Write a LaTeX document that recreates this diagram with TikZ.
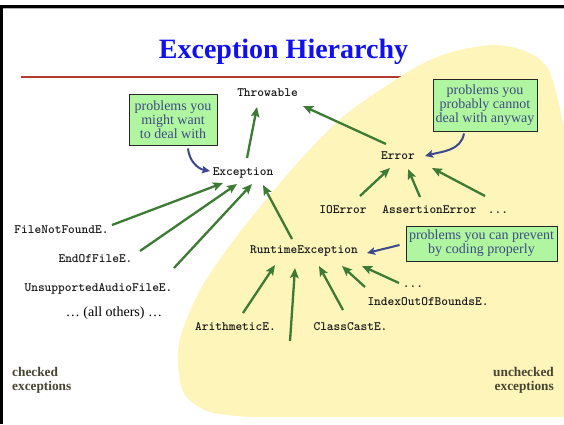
\documentclass[tikz,border=0pt]{standalone}
\usepackage{fontspec}
\setmainfont{Liberation Serif}
\newfontfamily\clsfont{lmmonolt10-bold.otf}
\usetikzlibrary{arrows.meta,calc}
\definecolor{yel}{RGB}{253,245,185}
\definecolor{ggreen}{RGB}{61,122,52}
\definecolor{navyb}{RGB}{62,72,140}
\definecolor{cfill}{RGB}{176,245,160}
\definecolor{ctext}{RGB}{60,75,130}
\definecolor{redl}{RGB}{176,60,50}
\definecolor{titleb}{RGB}{16,16,240}
\definecolor{olive}{RGB}{72,68,50}
\tikzset{
  cls/.style={font=\clsfont\fontsize{12.8}{14}\selectfont, text=black!90, anchor=base, inner sep=0pt},
  garr/.style={draw=ggreen, line width=2.3pt, -{Stealth[length=10pt,width=8.5pt,inset=2pt]}},
  barr/.style={draw=navyb, line width=2pt, -{Stealth[length=8pt,width=7.5pt,inset=1.5pt]}},
  callout/.style={draw=black!85, line width=0.9pt, fill=cfill, text=ctext, align=center,
    font=\fontsize{14}{14}\selectfont, inner sep=0pt},
  sidelbl/.style={text=olive, font=\bfseries\fontsize{13.3}{13.5}\selectfont, inner sep=0pt}
}
\begin{document}
\begin{tikzpicture}[x=1pt,y=-1pt]
\useasboundingbox (0,0) rectangle (564,424);
\clip (0,0) rectangle (564,424);
\fill[white] (0,0) rectangle (564,424);
% red rule
\draw[redl, line width=2pt] (21,77) -- (420,77);
% yellow region
\fill[yel] plot[smooth, tension=0.55] coordinates {(252,417) (210,412) (185,395) (178,365) (181,335) (200,290) (230,245) (260,207) (300,160) (345,115) (400,77) (430,60) (460,50) (495,45) (525,51) (547,67) (558,100) (566,140)} -- (570,140) -- (570,417) -- cycle;
% frame
\draw[black, line width=2.6pt] (1.3,424) -- (1.3,6.2) -- (564,6.2);
\draw[black!30, line width=0.6pt] (2.6,8.2) -- (564,8.2);
% title
\node[anchor=base, text=titleb, font=\bfseries\fontsize{28}{30}\selectfont, inner sep=0pt] (title) at (283.5,58) {Exception Hierarchy};
% classes
\node[cls] (thr) at (267.5,96) {Throwable};
\node[cls] (exc) at (243,175) {Exception};
\node[cls] (err) at (398,159) {Error};
\node[cls] (ioe) at (343,213) {IOError};
\node[cls] (ase) at (429.5,213) {AssertionError};
\node[cls] (edots) at (498,213) {...};
\node[cls] (rte) at (304,253) {RuntimeException};
\node[cls] (rdots) at (413,287) {...};
\node[cls] (ioob) at (428,305) {IndexOutOfBoundsE.};
\node[cls] (cce) at (350.5,330) {ClassCastE.};
\node[cls] (ari) at (235.5,330) {ArithmeticE.};
\node[cls] (fnf) at (61.5,233) {FileNotFoundE.};
\node[cls] (eof) at (95.5,262) {EndOfFileE.};
\node[cls] (uaf) at (98.5,291) {UnsupportedAudioFileE.};
\node[anchor=base, inner sep=0pt, font=\fontsize{14}{14}\selectfont] (oth) at (114,316) {\dots{} (all others) \dots};
\coordinate (free) at (290,341);
% callouts
\node[callout, minimum width=88pt, minimum height=51pt] (c1) at (173,119.5) {problems you\\might want\\to deal with};
\node[callout, minimum width=104pt, minimum height=52pt] (c2) at (485,105) {problems you\\probably cannot\\deal with anyway};
\node[callout, minimum width=151pt, minimum height=35pt] (c3) at (481.5,243.5) {problems you can prevent\\by coding properly};
% side labels
\node[sidelbl, anchor=base west, align=left] (chk) at (12,390) {checked\\exceptions};
\node[sidelbl, anchor=base east, align=right] (unchk) at (554,390) {unchecked\\exceptions};
% green arrows
\draw[garr] ($(exc.base)+(4,-17)$) -- ($(thr.base)+(-10.5,11)$);
\draw[garr] ($(err.base)+(-12,-15)$) -- ($(thr.base)+(35.5,10)$);
\draw[garr] ($(fnf.base)+(50.5,-8)$) -- ($(exc.base)+(-20,8)$);
\draw[garr] ($(eof.base)+(44.5,-11)$) -- ($(exc.base)+(-6,9)$);
\draw[garr] ($(uaf.base)+(75.5,-23)$) -- ($(exc.base)+(9,9)$);
\draw[garr] ($(rte.base)+(-12,-14)$) -- ($(exc.base)+(20,10)$);
\draw[garr] ($(ari.base)+(7.5,-17)$) -- ($(rte.base)+(-29,12)$);
\draw[garr] (free) -- ($(rte.base)+(-9,15)$);
\draw[garr] ($(cce.base)+(-7.5,-20)$) -- ($(rte.base)+(15,13)$);
\draw[garr] ($(ioob.base)+(-63,-18)$) -- ($(rte.base)+(38,13)$);
\draw[garr] ($(rdots.base)+(-14,-4)$) -- ($(rte.base)+(58,13)$);
\draw[garr] ($(ioe.base)+(17,-17)$) -- ($(err.base)+(-8,9)$);
\draw[garr] ($(ase.base)+(-9.5,-16)$) -- ($(err.base)+(10,10)$);
\draw[garr] ($(edots.base)+(-13,-17)$) -- ($(err.base)+(34,9)$);
% blue arrows
\draw[barr] ($(c1.south)+(15,3)$) to[out=-85, in=170] ($(exc.base)+(-33,-4)$);
\draw[barr] ($(c2.south)+(-21,2)$) to[out=-100, in=15] ($(err.base)+(27,-3)$);
\draw[barr] ($(c3.west)+(-6,1.5)$) -- ($(rte.base)+(63,0)$);
\end{tikzpicture}
\end{document}
